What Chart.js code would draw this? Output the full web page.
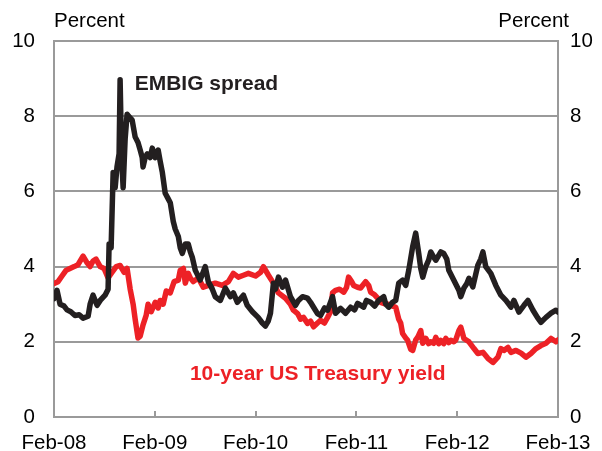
<!DOCTYPE html>
<html>
<head>
<meta charset="utf-8">
<script src="https://cdn.jsdelivr.net/npm/chart.js@4"></script>
<style>
  html, body { margin: 0; padding: 0; background: #fff; }
  #wrap { width: 602px; height: 451px; }
</style>
</head>
<body>
<div id="wrap"><canvas id="spreadchart" width="602" height="451"></canvas></div>
<script>
// months since Feb-08
const tickLabels = ['Feb-08', 'Feb-09', 'Feb-10', 'Feb-11', 'Feb-12', 'Feb-13'];

// EMBIG spread (percent)
const embigMonths = [0, 0.36, 0.72, 1.2, 1.55, 2.0, 2.5, 3.0, 3.46, 4.06, 4.3, 4.65, 5.13, 5.5, 6.08, 6.44, 6.56, 6.8, 7.04, 7.28, 7.5, 7.75, 7.87, 8.05, 8.23, 8.47, 8.7, 9.07, 9.3, 9.66, 10.0, 10.26, 10.5, 10.6, 10.85, 11.1, 11.45, 11.7, 12.05, 12.4, 12.64, 12.9, 13.24, 13.6, 13.84, 14.2, 14.43, 14.8, 15.03, 15.27, 15.63, 15.98, 16.22, 16.46, 16.82, 17.4, 18.0, 18.37, 18.85, 19.2, 19.8, 20.4, 21.0, 21.35, 21.83, 22.55, 23.0, 23.62, 24.3, 24.8, 25.17, 25.5, 25.77, 26.12, 26.36, 26.72, 27.2, 27.56, 28.15, 28.75, 29.1, 29.58, 30.18, 30.54, 30.9, 31.37, 31.73, 32.2, 32.57, 33.16, 33.52, 34.12, 34.71, 35.31, 35.79, 36.14, 36.86, 37.2, 37.7, 38.17, 38.65, 39.25, 39.5, 39.84, 40.3, 40.68, 41.04, 41.5, 41.87, 42.23, 42.7, 43.06, 43.42, 43.66, 43.9, 44.26, 44.6, 44.85, 45.2, 45.45, 45.8, 46.05, 46.4, 46.76, 47.0, 47.6, 48.2, 48.43, 48.8, 49.15, 49.4, 49.86, 50.46, 50.8, 51.06, 51.4, 52.0, 52.6, 53.2, 53.8, 54.4, 54.75, 55.35, 55.95, 56.42, 57.02, 57.6, 57.97, 58.57, 59.17, 59.76, 60];
const embigValues = [3.15, 3.37, 3.0, 2.95, 2.85, 2.8, 2.7, 2.72, 2.63, 2.68, 3.0, 3.24, 2.97, 3.1, 3.24, 3.4, 4.6, 4.5, 6.5, 6.1, 6.65, 7.0, 8.97, 6.9, 6.1, 7.4, 8.05, 7.95, 7.9, 7.45, 7.3, 7.1, 6.9, 6.65, 6.9, 7.0, 6.9, 7.15, 6.9, 7.1, 6.8, 6.5, 5.95, 5.8, 5.7, 5.2, 5.0, 4.8, 4.5, 4.35, 4.6, 4.6, 4.4, 4.25, 3.9, 3.64, 4.0, 3.6, 3.4, 3.2, 3.1, 3.43, 3.2, 3.3, 3.05, 3.24, 2.97, 2.8, 2.65, 2.5, 2.42, 2.55, 2.76, 3.56, 3.4, 3.72, 3.45, 3.64, 3.2, 2.97, 3.1, 3.2, 3.16, 3.05, 2.92, 2.75, 2.7, 2.9, 2.84, 3.2, 2.76, 2.89, 2.76, 2.92, 2.85, 3.02, 2.92, 3.1, 3.05, 2.95, 3.1, 3.2, 3.0, 2.92, 3.05, 3.1, 3.56, 3.64, 3.5, 3.9, 4.53, 4.89, 4.35, 3.95, 3.72, 4.0, 4.17, 4.39, 4.25, 4.17, 4.3, 4.39, 4.35, 4.2, 3.9, 3.64, 3.37, 3.2, 3.43, 3.55, 3.69, 3.46, 4.04, 4.2, 4.39, 4.0, 3.82, 3.5, 3.24, 3.1, 2.92, 3.1, 2.79, 2.97, 3.1, 2.84, 2.63, 2.52, 2.65, 2.76, 2.84, 2.79];

// 10-year US Treasury yield (percent)
const ustMonths = [0, 0.48, 0.95, 1.43, 1.9, 2.4, 2.86, 3.46, 3.94, 4.3, 4.65, 5.0, 5.5, 5.96, 6.44, 6.92, 7.4, 7.87, 8.35, 8.7, 9.07, 9.42, 9.66, 10.0, 10.26, 10.6, 10.97, 11.2, 11.57, 12.05, 12.4, 12.64, 13.0, 13.36, 13.84, 14.3, 14.8, 15.03, 15.4, 15.63, 15.98, 16.22, 16.58, 17.18, 17.77, 18.37, 19.2, 20.04, 20.76, 21.35, 21.95, 22.55, 23.14, 24.0, 24.6, 24.93, 25.53, 26.12, 26.72, 27.56, 28.15, 28.5, 29.0, 29.35, 29.7, 30.18, 30.54, 30.9, 31.37, 31.73, 32.2, 32.57, 32.92, 33.16, 33.52, 34.0, 34.5, 34.83, 35.07, 35.43, 35.67, 36.14, 36.5, 37.1, 37.46, 37.7, 38.17, 38.53, 38.9, 39.25, 39.72, 40.08, 40.68, 41.04, 41.27, 41.5, 41.87, 42.1, 42.47, 42.7, 43.06, 43.3, 43.66, 43.9, 44.26, 44.6, 44.85, 45.2, 45.45, 45.8, 46.05, 46.4, 46.64, 47.0, 47.24, 47.6, 47.83, 48.2, 48.43, 48.8, 49.4, 50.0, 50.46, 51.06, 51.65, 52.25, 52.85, 53.2, 53.56, 54.04, 54.4, 55.0, 55.6, 56.18, 56.78, 57.38, 57.97, 58.57, 59.17, 59.76, 60];
const ustValues = [3.55, 3.6, 3.75, 3.9, 3.95, 4.0, 4.05, 4.28, 4.1, 4.0, 4.15, 4.2, 4.0, 3.95, 3.7, 3.85, 4.0, 4.03, 3.85, 3.95, 3.4, 3.0, 2.6, 2.1, 2.15, 2.45, 2.7, 3.0, 2.8, 3.05, 2.9, 3.1, 3.0, 3.35, 3.3, 3.6, 3.64, 3.9, 3.95, 3.56, 3.82, 3.7, 3.6, 3.7, 3.45, 3.5, 3.56, 3.5, 3.6, 3.82, 3.72, 3.77, 3.82, 3.75, 3.85, 4.0, 3.77, 3.56, 3.3, 3.16, 3.0, 2.84, 2.75, 2.6, 2.65, 2.49, 2.55, 2.4, 2.5, 2.57, 2.5, 2.65, 2.8, 3.3, 3.37, 3.4, 3.32, 3.45, 3.72, 3.6, 3.5, 3.45, 3.43, 3.6, 3.5, 3.32, 3.25, 3.16, 3.05, 3.02, 3.0, 2.97, 2.92, 2.6, 2.5, 2.22, 2.1, 2.04, 1.8, 1.77, 2.05, 2.12, 2.3, 1.96, 2.09, 1.95, 2.0, 1.96, 2.12, 1.95, 2.04, 1.95, 2.09, 1.98, 2.04, 2.0, 2.05, 2.3, 2.39, 2.09, 2.0, 1.82, 1.69, 1.72, 1.56, 1.45, 1.59, 1.82, 1.77, 1.85, 1.72, 1.77, 1.7, 1.59, 1.69, 1.82, 1.9, 1.96, 2.09, 2.0, 2.05];

const black = '#231f20';
const red = '#ed2126';
const grey = '#9a9a9a';
const font = { family: "'Liberation Sans', Arial, sans-serif", size: 20.5 };

// text labels on the chart (percent headers + series names)
const textPlugin = {
  id: 'textPlugin',
  afterDraw(chart) {
    const ctx = chart.ctx;
    const xs = chart.scales.x;
    const ys = chart.scales.y;
    ctx.save();
    ctx.textBaseline = 'middle';
    ctx.font = "20.5px 'Liberation Sans', Arial, sans-serif";
    ctx.fillStyle = '#000';
    ctx.textAlign = 'left';
    ctx.fillText('Percent', 54, 21);
    ctx.textAlign = 'right';
    ctx.fillText('Percent', 569, 21);

    ctx.font = "bold 21px 'Liberation Sans', Arial, sans-serif";
    ctx.textAlign = 'left';
    ctx.fillStyle = black;
    ctx.fillText('EMBIG spread', xs.getPixelForValue(9.6), ys.getPixelForValue(8.84));
    ctx.textAlign = 'center';
    ctx.fillStyle = red;
    ctx.fillText('10-year US Treasury yield', xs.getPixelForValue(31.4), ys.getPixelForValue(1.14));
    ctx.restore();
  }
};

const spreadchart = document.getElementById('spreadchart').getContext('2d');

const chart = new Chart(spreadchart, {
  type: 'line',
  data: {
    datasets: [{
      label: 'EMBIG spread',
      data: embigMonths.map((m, i) => ({ x: m, y: embigValues[i] })),
      borderColor: black,
      borderWidth: 5.5,
      pointRadius: 0,
      tension: 0,
      borderJoinStyle: 'round',
      borderCapStyle: 'round'
    }, {
      label: '10-year US Treasury yield',
      data: ustMonths.map((m, i) => ({ x: m, y: ustValues[i] })),
      borderColor: red,
      borderWidth: 5.5,
      pointRadius: 0,
      tension: 0,
      borderJoinStyle: 'round',
      borderCapStyle: 'round'
    }]
  },
  options: {
    responsive: false,
    animation: false,
    layout: { padding: { top: 41, left: 0, right: 0, bottom: 0 } },
    plugins: {
      legend: { display: false },
      tooltip: { enabled: false }
    },
    scales: {
      x: {
        type: 'linear',
        min: 0,
        max: 60,
        // fixed height, and no extra side padding for the edge labels
        afterFit: (s) => { s.height = 34; s.paddingLeft = 0; s.paddingRight = 0; },
        afterBuildTicks: (s) => { s.ticks = tickLabels.map((t, i) => ({ value: i * 12 })); },
        ticks: {
          autoSkip: false,
          maxRotation: 0,
          padding: 20,
          color: '#000',
          font: font,
          callback: (v) => tickLabels[v / 12]
        },
        // tick marks point up into the plot
        grid: { drawOnChartArea: false, tickLength: -6, color: grey, lineWidth: 2 },
        border: { color: grey, width: 2 }
      },
      y: {
        position: 'left',
        min: 0,
        max: 10,
        afterFit: (s) => { s.width = 54; },
        ticks: { stepSize: 2, padding: 19, color: '#000', font: font },
        grid: { color: grey, lineWidth: 2, drawTicks: false },
        border: { color: grey, width: 2 }
      },
      y2: {
        position: 'right',
        min: 0,
        max: 10,
        afterFit: (s) => { s.width = 44; },
        ticks: { stepSize: 2, padding: 12, color: '#000', font: font },
        grid: { drawOnChartArea: false, drawTicks: false },
        border: { color: grey, width: 2 }
      }
    }
  },
  plugins: [textPlugin]
});
</script>
</body>
</html>
